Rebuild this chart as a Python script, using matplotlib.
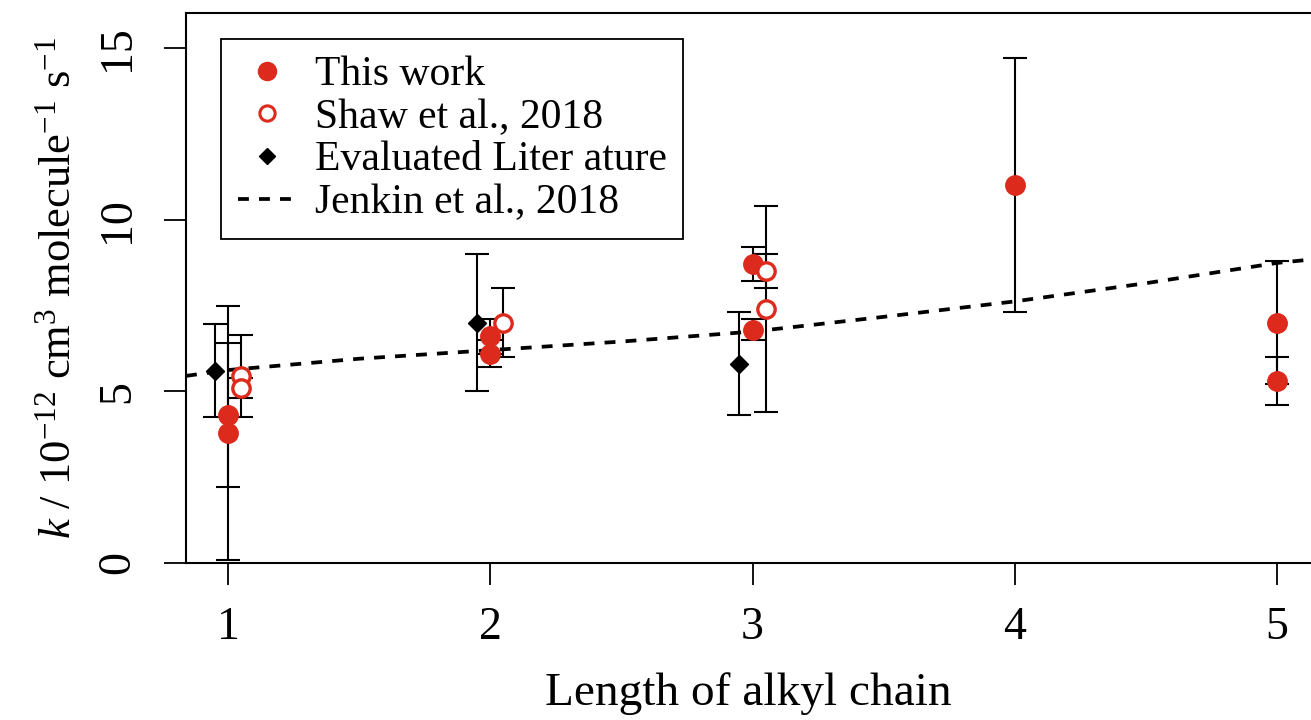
import matplotlib
matplotlib.use('Agg')
import matplotlib.pyplot as plt
from matplotlib.lines import Line2D

plt.rcParams['font.family'] = ['Liberation Serif', 'DejaVu Serif']
plt.rcParams['mathtext.fontset'] = 'custom'
plt.rcParams['mathtext.rm'] = 'Liberation Serif'
plt.rcParams['mathtext.it'] = 'Liberation Serif:italic'

# This work
this_x = [1, 1, 2, 2, 3, 3, 4, 5, 5]
this_y = [4.3, 3.8, 6.6, 6.1, 8.7, 6.8, 11.0, 7.0, 5.3]
this_err = [2.1, 3.7, 0.5, 0.4, 0.5, 0.3, 3.7, 1.8, 0.7]

# Shaw et al., 2018
shaw_x = [1.05, 1.05, 2.05, 3.05, 3.05]
shaw_y = [5.45, 5.1, 7.0, 8.5, 7.4]
shaw_err = [1.2, 0.28, 1.0, 0.5, 3.0]

# Evaluated literature
lit_x = [0.95, 1.95, 2.95]
lit_y = [5.6, 7.0, 5.8]
lit_err = [1.35, 2.0, 1.5]

# Jenkin et al., 2018
jenkin_x = [0.84, 1.0, 1.5, 2.0, 2.5, 3.0, 3.5, 4.0, 4.5, 5.0, 5.13]
jenkin_y = [5.45, 5.62, 5.95, 6.2, 6.45, 6.74, 7.17, 7.62, 8.15, 8.74, 8.84]

red = '#dc2a1c'
dash = (0, (2.9, 2.7))

fig = plt.figure(figsize=(13.11, 7.2), dpi=100)
ax = fig.add_axes([186/1311, 157/720, 1125/1311, 550/720])

ax.plot(jenkin_x, jenkin_y, color='black', lw=2.7, ls=dash, zorder=2)

ebkw = dict(fmt='none', ecolor='black', elinewidth=1.5, capsize=8.5, capthick=1.5, zorder=3)
ax.errorbar(lit_x, lit_y, yerr=lit_err, **ebkw)
ax.errorbar(this_x, this_y, yerr=this_err, **ebkw)
ax.errorbar(shaw_x, shaw_y, yerr=shaw_err, **ebkw)

ax.plot(lit_x, lit_y, 'D', color='black', ms=9.5, ls='none', zorder=4)
ax.plot(this_x, this_y, 'o', color=red, ms=14, ls='none', zorder=5)
ax.plot(shaw_x, shaw_y, 'o', mfc='white', mec=red, mew=2.4, ms=12.5, ls='none', zorder=5)

ax.set_xlim(0.84, 5.129)
ax.set_ylim(0, 16.02)
ax.set_xticks([1, 2, 3, 4, 5])
ax.set_yticks([0, 5, 10, 15])
ax.tick_params(axis='both', labelsize=33, length=16, width=1.3, direction='out')
ax.tick_params(axis='x', pad=15)
ax.tick_params(axis='y', pad=18)
for lab in ax.get_yticklabels():
    lab.set_rotation(90)
    lab.set_va('center')

for s in ['left', 'bottom', 'top']:
    ax.spines[s].set_linewidth(1.5)
ax.spines['right'].set_visible(False)

ax.set_xlabel('Length of alkyl chain', fontsize=34, labelpad=17)
ax.set_ylabel(r'$k$ / 10$^{-12}$ cm$^{3}$ molecule$^{-1}$ s$^{-1}$', fontsize=32, labelpad=12)

handles = [
    Line2D([], [], marker='o', color=red, ls='none', ms=13),
    Line2D([], [], marker='o', mfc='white', mec=red, mew=2.2, ls='none', ms=11),
    Line2D([], [], marker='D', color='black', ls='none', ms=8),
    Line2D([], [], color='black', lw=2.7, ls=dash),
]
labels = ['This work', 'Shaw et al., 2018', 'Evaluated Liter ature', 'Jenkin et al., 2018']
leg = ax.legend(handles, labels, loc='upper left', bbox_to_anchor=(221/1311, 1-39/720),
                bbox_transform=fig.transFigure, borderaxespad=0, fontsize=30,
                frameon=True, fancybox=False, edgecolor='black', framealpha=1,
                handlelength=1.4, handletextpad=0.45, labelspacing=0.1,
                borderpad=0.4)
leg.get_frame().set_linewidth(1.3)

fig.savefig('out.png', dpi=100)
